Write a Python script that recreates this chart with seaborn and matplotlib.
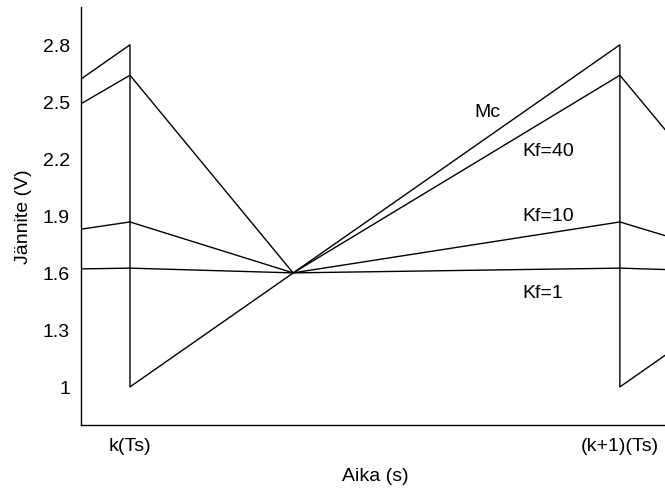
import matplotlib
matplotlib.use("Agg")
import matplotlib.pyplot as plt
import pandas as pd
import seaborn as sns

# time in sample periods, k(Ts) = 0 and (k+1)(Ts) = 1
t_mc = [-0.1, 0.0, 0.0, 1.0, 1.0, 1.1]
v_mc = [2.62, 2.80, 1.00, 2.80, 1.00, 1.18]

t_kf = [-0.1, 0.0, 0.333, 1.0, 1.1]
v_kf40 = [2.49, 2.64, 1.60, 2.64, 2.33]
v_kf10 = [1.83, 1.868, 1.60, 1.868, 1.79]
v_kf1 = [1.621, 1.625, 1.60, 1.625, 1.617]

curve_names = ["Mc", "Kf=40", "Kf=10", "Kf=1"]
label_t = [0.702, 0.802, 0.802, 0.802]
label_v = [2.45, 2.242, 1.90, 1.495]

x_ticks = [0, 1]
x_ticklabels = ["k(Ts)", "(k+1)(Ts)"]
y_ticks = [1, 1.3, 1.6, 1.9, 2.2, 2.5, 2.8]
y_ticklabels = ["1", "1.3", "1.6", "1.9", "2.2", "2.5", "2.8"]

frames = [pd.DataFrame({"t": t_mc, "v": v_mc, "curve": "Mc"})]
for name, vals in zip(curve_names[1:], [v_kf40, v_kf10, v_kf1]):
    frames.append(pd.DataFrame({"t": t_kf, "v": vals, "curve": name}))
df = pd.concat(frames, ignore_index=True)

sns.set_style("white")
plt.rcParams["font.family"] = ["Liberation Sans", "DejaVu Sans"]
plt.rcParams["text.color"] = "black"
plt.rcParams["axes.labelcolor"] = "black"
plt.rcParams["xtick.color"] = "black"
plt.rcParams["ytick.color"] = "black"
fs = 14

fig = plt.figure(figsize=(6.65, 4.89), dpi=100)
ax = fig.add_axes([0.1218, 0.129, 0.884, 0.855])

sns.lineplot(
    data=df, x="t", y="v", units="curve", estimator=None, sort=False,
    color="black", linewidth=1.0, ax=ax
)

for name, tx, vy in zip(curve_names, label_t, label_v):
    ax.text(tx, vy, name, fontsize=fs, ha="left", va="center")

ax.set_xlim(-0.1, 1.1)
ax.set_ylim(0.8, 3.0)
ax.set_xticks(x_ticks)
ax.set_xticklabels(x_ticklabels, fontsize=fs)
ax.set_yticks(y_ticks)
ax.set_yticklabels(y_ticklabels, fontsize=fs)
ax.tick_params(direction="in", length=4, width=0.8, color="black")
ax.tick_params(axis="x", pad=9)
ax.tick_params(axis="y", pad=8)
ax.set_xlabel("Aika (s)", fontsize=fs, labelpad=9)
ax.set_ylabel("Jännite (V)", fontsize=fs, labelpad=8)

for side in ["top", "right"]:
    ax.spines[side].set_visible(False)
for side in ["left", "bottom"]:
    ax.spines[side].set_color("black")
    ax.spines[side].set_linewidth(1.0)

fig.savefig("out.png", dpi=100)
